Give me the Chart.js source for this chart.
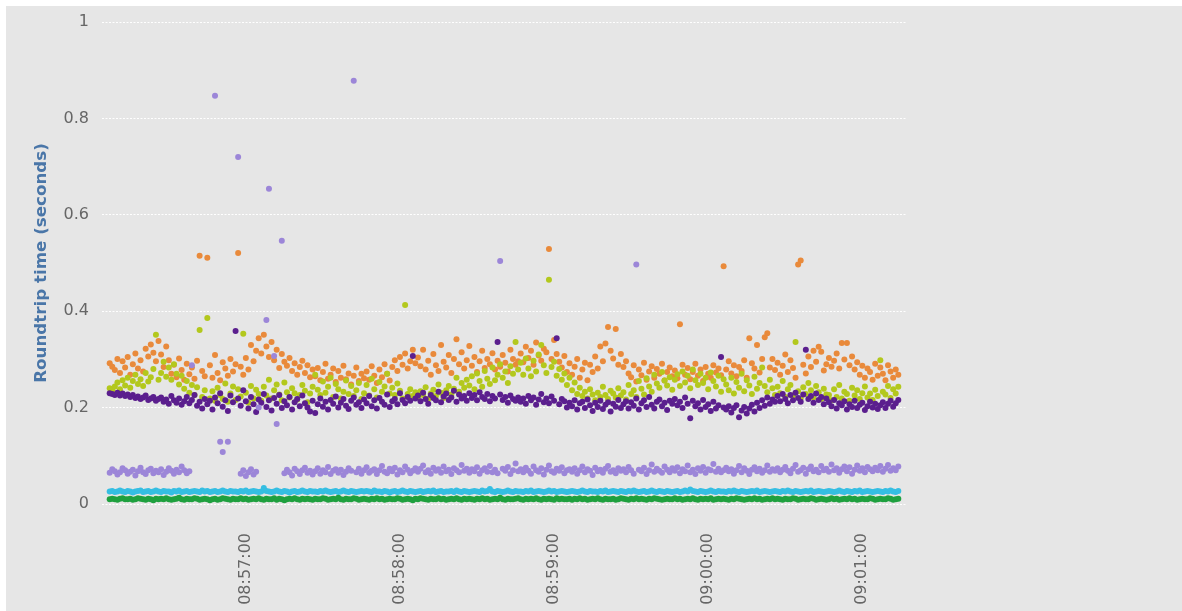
<!DOCTYPE html>
<html>
<head>
<meta charset="utf-8">
<script src="https://cdn.jsdelivr.net/npm/chart.js@4.4.1/dist/chart.umd.min.js"></script>
<style>
  html, body { margin: 0; padding: 0; background: #ffffff; overflow: hidden; }
  #caixa { position: absolute; left: 6px; top: 6px; width: 1176px; height: 605px; background: #e6e6e6; }
</style>
</head>
<body>
<div id="caixa"><canvas id="graficoRtt"></canvas></div>
<script>
// amostras de 1 s a partir deste horario
const inicioAmostras = "08:56:07";
const limitesEixoX = ["08:56:04", "09:01:17"];
const rotulosTempo = ["08:57:00", "08:58:00", "08:59:00", "09:00:00", "09:01:00"];
const rotulosY = [0, 0.2, 0.4, 0.6, 0.8, 1];

const serieRoxoEscuro = [
  .230,.228,.226,.231,.225,.229,.224,.227,.222,.226,.220,.223,.218,.221,.225,.216,.219,.222,.214,.218,
  .221,.212,.217,.208,.224,.215,.210,.219,.206,.213,.222,.209,.216,.226,.204,.212,.198,.218,.207,.214,
  .196,.221,.209,.230,.202,.215,.193,.225,.211,.359,.219,.204,.236,.213,.198,.222,.207,.191,.217,.210,
  .228,.201,.215,.194,.220,.208,.226,.199,.213,.205,.222,.196,.211,.218,.203,.225,.209,.200,.192,.214,
  .189,.207,.219,.202,.212,.196,.216,.208,.223,.200,.210,.218,.204,.197,.214,.221,.206,.211,.199,.217,
  .209,.224,.203,.215,.198,.220,.212,.206,.227,.201,.213,.218,.207,.230,.216,.209,.222,.214,.307,.219,
  .225,.213,.231,.218,.208,.226,.220,.215,.233,.211,.223,.229,.216,.221,.235,.212,.227,.219,.224,.214,
  .230,.220,.226,.215,.232,.222,.218,.228,.213,.224,.219,.336,.227,.216,.222,.210,.225,.218,.214,.221,
  .212,.219,.208,.224,.215,.221,.206,.217,.228,.211,.219,.209,.223,.214,.344,.207,.218,.213,.200,.210,
  .203,.215,.196,.209,.212,.199,.217,.205,.193,.210,.201,.214,.197,.206,.211,.192,.208,.202,.216,.199,
  .207,.213,.198,.211,.204,.219,.196,.209,.215,.201,.222,.206,.198,.212,.217,.203,.210,.195,.214,.208,
  .218,.205,.212,.199,.221,.208,.178,.214,.203,.209,.196,.216,.201,.207,.193,.212,.198,.205,.305,.200,
  .196,.203,.190,.199,.205,.180,.194,.201,.188,.198,.206,.192,.210,.199,.215,.204,.221,.208,.217,.212,
  .224,.213,.228,.218,.209,.226,.215,.231,.220,.212,.227,.320,.218,.224,.210,.229,.216,.222,.207,.219,
  .211,.203,.216,.198,.209,.205,.213,.196,.207,.201,.214,.199,.206,.210,.195,.203,.212,.200,.208,.197,
  .205,.211,.199,.208,.214,.202,.209,.216
];

const serieLaranja = [
  .292,.285,.278,.301,.272,.296,.283,.305,.268,.290,.312,.281,.298,.275,.322,.306,.331,.314,.296,.338,
  .310,.284,.327,.298,.270,.289,.263,.302,.278,.258,.291,.269,.283,.260,.297,.515,.276,.265,.511,.288,
  .262,.309,.272,.257,.294,.281,.266,.301,.275,.290,.521,.285,.268,.303,.279,.330,.296,.318,.344,.312,
  .351,.327,.305,.336,.298,.320,.282,.311,.295,.287,.303,.276,.292,.268,.284,.297,.272,.288,.263,.279,
  .265,.282,.257,.274,.291,.260,.268,.281,.253,.276,.262,.287,.259,.271,.248,.266,.283,.255,.270,.261,
  .275,.258,.286,.266,.251,.279,.263,.290,.270,.256,.284,.298,.276,.305,.289,.312,.281,.296,.320,.292,
  .304,.286,.320,.279,.297,.268,.311,.288,.276,.330,.295,.283,.309,.272,.301,.342,.290,.315,.281,.298,
  .328,.287,.305,.274,.296,.318,.282,.301,.290,.313,.279,.297,.285,.309,.293,.275,.320,.301,.289,.296,
  .312,.294,.326,.303,.318,.289,.335,.308,.297,.322,.315,.529,.301,.340,.311,.295,.283,.307,.274,.292,
  .268,.285,.301,.262,.279,.293,.257,.289,.274,.306,.281,.327,.296,.333,.367,.318,.302,.363,.289,.311,
  .284,.296,.271,.263,.288,.254,.279,.267,.293,.258,.275,.286,.262,.280,.270,.291,.256,.274,.283,.265,
  .277,.261,.373,.289,.268,.282,.259,.274,.291,.266,.279,.255,.284,.270,.262,.288,.273,.281,.267,.493,
  .279,.296,.271,.288,.265,.284,.276,.298,.262,.344,.292,.281,.330,.273,.301,.346,.354,.283,.301,.278,
  .293,.268,.287,.310,.274,.298,.282,.262,.497,.505,.289,.271,.306,.284,.318,.295,.326,.316,.277,.290,
  .303,.285,.297,.312,.281,.334,.300,.334,.288,.306,.279,.294,.268,.287,.262,.281,.274,.258,.291,.266,
  .283,.270,.257,.288,.275,.262,.279,.268
];

const serieVerdeLimao = [
  .240,.236,.244,.252,.238,.257,.246,.262,.241,.255,.268,.249,.259,.245,.272,.254,.263,.280,.351,.258,
  .272,.295,.264,.283,.258,.290,.270,.248,.266,.239,.255,.231,.247,.226,.242,.361,.222,.236,.386,.219,
  .234,.214,.241,.226,.218,.250,.212,.229,.244,.216,.238,.223,.353,.231,.210,.245,.219,.237,.228,.214,
  .243,.225,.258,.219,.236,.248,.227,.215,.252,.232,.221,.240,.230,.217,.226,.247,.235,.211,.229,.243,
  .268,.237,.226,.254,.231,.243,.262,.222,.249,.238,.219,.233,.256,.228,.245,.224,.236,.251,.218,.230,
  .247,.225,.260,.238,.221,.253,.233,.244,.270,.229,.241,.226,.250,.235,.219,.413,.228,.238,.224,.232,
  .221,.234,.226,.242,.218,.229,.237,.224,.248,.231,.220,.236,.245,.227,.239,.262,.233,.251,.241,.258,
  .246,.265,.238,.271,.255,.243,.276,.260,.249,.283,.257,.268,.290,.262,.275,.251,.286,.270,.336,.279,
  .293,.268,.302,.281,.265,.297,.275,.310,.330,.288,.272,.465,.284,.295,.266,.280,.258,.271,.247,.262,
  .236,.252,.228,.241,.224,.233,.219,.238,.227,.215,.231,.222,.243,.226,.218,.235,.229,.221,.240,.225,
  .232,.217,.247,.228,.236,.222,.255,.239,.227,.261,.244,.233,.268,.250,.241,.274,.256,.246,.263,.237,
  .258,.269,.245,.275,.252,.266,.240,.279,.257,.247,.270,.251,.262,.238,.273,.255,.244,.266,.233,.259,
  .248,.236,.262,.229,.253,.241,.270,.234,.257,.246,.228,.264,.239,.251,.283,.245,.232,.258,.240,.226,
  .243,.230,.255,.222,.238,.247,.225,.336,.234,.219,.242,.228,.251,.236,.221,.245,.232,.218,.239,.227,
  .226,.215,.238,.222,.247,.219,.233,.228,.214,.241,.225,.236,.218,.230,.244,.221,.229,.216,.237,.224,
  .298,.233,.227,.245,.220,.238,.229,.243
];

const serieLilas = [
  .065,.072,.068,.061,.066,.074,.070,.063,.067,.071,.059,.068,.075,.066,.062,.070,.073,.064,.069,.066,
  .072,.060,.067,.074,.069,.063,.071,.066,.078,.070,.064,.068,.288,null,null,null,null,null,null,null,
  null,.847,null,.129,.108,null,.129,null,null,null,.720,.063,.070,.058,.066,.072,.061,.067,.200,null,
  null,.382,.654,null,.307,.166,null,.546,.064,.071,.066,.059,.073,.068,.062,.070,.075,.065,.069,.061,
  .068,.074,.063,.070,.066,.077,.062,.069,.072,.065,.071,.060,.067,.074,.069,.878,.066,.073,.063,.070,
  .076,.065,.069,.072,.062,.070,.079,.067,.064,.073,.068,.075,.061,.070,.066,.078,.071,.064,.069,.074,
  .067,.073,.080,.066,.070,.063,.075,.069,.072,.065,.078,.068,.071,.062,.074,.070,.066,.081,.069,.073,
  .065,.072,.068,.076,.063,.070,.074,.067,.079,.066,.071,.064,.504,.073,.069,.077,.062,.070,.084,.068,
  .072,.066,.075,.069,.063,.078,.070,.067,.074,.061,.071,.080,.068,.065,.073,.069,.076,.064,.070,.072,
  .067,.074,.063,.070,.078,.066,.072,.069,.060,.075,.068,.071,.065,.073,.079,.067,.070,.064,.074,.069,
  .072,.066,.077,.070,.063,.497,.071,.068,.075,.062,.070,.082,.067,.073,.069,.065,.078,.071,.066,.074,
  .069,.076,.064,.072,.068,.080,.066,.071,.062,.074,.069,.077,.065,.072,.070,.083,.067,.073,.066,.070,
  .075,.068,.072,.063,.070,.079,.066,.074,.069,.062,.071,.076,.068,.073,.065,.070,.080,.067,.072,.069,
  .074,.066,.071,.077,.069,.064,.073,.081,.067,.070,.075,.063,.072,.078,.068,.071,.066,.079,.070,.073,
  .067,.082,.070,.074,.065,.072,.078,.068,.076,.063,.071,.080,.069,.074,.066,.077,.072,.068,.075,.070,
  .079,.067,.073,.081,.069,.074,.070,.078
];

const serieCiano = [
  .026,.027,.025,.026,.028,.026,.025,.027,.026,.024,.026,.027,.028,.025,.026,.027,.025,.026,.028,.026,
  .025,.027,.026,.026,.024,.027,.026,.028,.025,.026,.027,.025,.026,.027,.026,.025,.028,.026,.027,.025,
  .026,.027,.025,.026,.028,.026,.025,.027,.026,.026,.025,.027,.026,.028,.025,.026,.027,.026,.025,.026,
  .033,.027,.026,.025,.026,.028,.026,.025,.027,.026,.024,.026,.027,.025,.026,.028,.026,.025,.027,.026,
  .026,.025,.027,.026,.028,.026,.025,.026,.027,.025,.026,.028,.026,.025,.027,.026,.025,.026,.027,.026,
  .027,.026,.025,.028,.026,.026,.025,.027,.026,.024,.026,.027,.025,.026,.028,.026,.025,.027,.026,.025,
  .026,.027,.025,.026,.027,.026,.028,.025,.026,.027,.025,.026,.026,.027,.025,.028,.026,.025,.027,.026,
  .025,.026,.027,.026,.025,.028,.026,.027,.031,.026,.025,.027,.026,.025,.026,.028,.026,.025,.027,.026,
  .026,.025,.027,.026,.028,.025,.026,.027,.026,.025,.026,.028,.026,.027,.025,.026,.027,.026,.025,.026,
  .027,.026,.025,.026,.028,.026,.025,.027,.026,.026,.025,.027,.026,.028,.025,.026,.027,.026,.025,.027,
  .026,.025,.027,.026,.028,.026,.025,.026,.027,.025,.026,.028,.026,.025,.027,.026,.025,.027,.026,.025,
  .026,.027,.025,.026,.028,.026,.030,.027,.026,.025,.027,.026,.025,.026,.028,.026,.025,.027,.026,.026,
  .025,.027,.026,.028,.026,.025,.027,.026,.025,.026,.027,.026,.028,.025,.026,.027,.026,.025,.026,.027,
  .026,.025,.027,.026,.028,.026,.025,.027,.026,.025,.026,.027,.026,.028,.025,.026,.027,.026,.025,.026,
  .027,.026,.025,.026,.028,.026,.025,.027,.026,.025,.027,.026,.028,.025,.026,.027,.026,.025,.026,.027,
  .026,.025,.027,.026,.028,.026,.025,.027
];

const serieVerde = [
  .010,.011,.010,.009,.011,.012,.010,.010,.011,.009,.010,.012,.011,.010,.009,.011,.010,.008,.011,.010,
  .011,.010,.012,.010,.009,.010,.011,.013,.010,.009,.011,.010,.010,.012,.011,.009,.010,.011,.010,.008,
  .010,.011,.009,.010,.012,.011,.010,.009,.011,.010,.010,.012,.010,.011,.009,.010,.011,.010,.012,.010,
  .009,.011,.010,.010,.012,.009,.011,.010,.008,.010,.011,.010,.012,.010,.009,.011,.010,.011,.010,.009,
  .011,.010,.010,.012,.011,.009,.010,.011,.010,.013,.010,.009,.011,.010,.010,.012,.011,.009,.010,.011,
  .010,.009,.011,.010,.012,.010,.011,.009,.010,.011,.010,.010,.012,.011,.009,.010,.011,.010,.008,.011,
  .010,.012,.011,.010,.009,.011,.010,.010,.012,.010,.011,.009,.010,.011,.010,.012,.010,.009,.011,.010,
  .011,.010,.009,.011,.010,.012,.010,.011,.009,.010,.011,.010,.013,.010,.009,.011,.010,.010,.011,.012,
  .010,.009,.011,.010,.011,.010,.012,.010,.009,.011,.010,.011,.010,.009,.012,.010,.011,.010,.010,.011,
  .009,.011,.010,.012,.010,.011,.009,.010,.011,.010,.012,.010,.009,.011,.010,.010,.011,.009,.010,.012,
  .011,.010,.009,.011,.010,.012,.010,.011,.010,.009,.011,.010,.012,.011,.010,.009,.010,.011,.010,.010,
  .012,.010,.011,.009,.010,.011,.010,.012,.010,.009,.011,.010,.011,.010,.012,.009,.010,.011,.010,.011,
  .010,.009,.011,.010,.012,.011,.010,.009,.010,.011,.010,.012,.010,.011,.009,.010,.011,.010,.012,.010,
  .011,.010,.009,.011,.010,.010,.012,.011,.009,.010,.011,.010,.010,.012,.011,.009,.010,.011,.010,.009,
  .010,.012,.010,.011,.009,.010,.011,.010,.012,.010,.011,.009,.010,.011,.010,.010,.012,.011,.009,.010,
  .011,.010,.010,.012,.011,.009,.010,.011
];

function paraSegundos(hora) {
  const [h, m, s] = hora.split(":").map(Number);
  return h * 3600 + m * 60 + s;
}

function formatarHora(seg) {
  const h = Math.floor(seg / 3600);
  const m = Math.floor((seg % 3600) / 60);
  const s = Math.round(seg % 60);
  return [h, m, s].map(n => String(n).padStart(2, "0")).join(":");
}

function montarPontos(valores) {
  const t0 = paraSegundos(inicioAmostras);
  return valores.map((v, i) => ({ x: t0 + i, y: v }));
}

function conjunto(valores, cor) {
  return {
    data: montarPontos(valores),
    backgroundColor: cor,
    borderWidth: 0,
    pointRadius: 3,
    pointHoverRadius: 3,
    showLine: false
  };
}

const fonte = "'DejaVu Sans', Verdana, sans-serif";

// o primeiro conjunto fica por cima
const datasets = [
  conjunto(serieVerde, "#1fa03f"),
  conjunto(serieCiano, "#35bee2"),
  conjunto(serieLilas, "#9c86d8"),
  conjunto(serieRoxoEscuro, "#5b1f8e"),
  conjunto(serieVerdeLimao, "#b3c81d"),
  conjunto(serieLaranja, "#e98a3b")
];

new Chart(document.getElementById("graficoRtt"), {
  type: "scatter",
  data: { datasets },
  options: {
    responsive: true,
    maintainAspectRatio: false,
    animation: false,
    layout: { padding: { left: 0, right: 276, top: 16, bottom: 0 } },
    plugins: { legend: { display: false }, tooltip: { enabled: false } },
    scales: {
      x: {
        type: "linear",
        min: paraSegundos(limitesEixoX[0]),
        max: paraSegundos(limitesEixoX[1]),
        afterBuildTicks: escala => {
          escala.ticks = rotulosTempo.map(r => ({ value: paraSegundos(r) }));
        },
        afterFit: escala => { escala.height = 107; },
        border: { display: false },
        grid: { display: false, drawTicks: false },
        ticks: {
          color: "#666666",
          font: { family: fonte, size: 16 },
          padding: 29,
          minRotation: 90,
          maxRotation: 90,
          autoSkip: false,
          callback: v => formatarHora(v)
        }
      },
      y: {
        min: 0,
        max: 1,
        afterBuildTicks: escala => {
          escala.ticks = rotulosY.map(v => ({ value: v }));
        },
        afterFit: escala => {
          escala.width = 96;
          escala.paddingTop = 0;
          escala.paddingBottom = 0;
        },
        border: { display: false, dash: [2, 1.5] },
        grid: { color: "#ffffff", lineWidth: 1, drawTicks: false },
        ticks: {
          color: "#666666",
          font: { family: fonte, size: 16 },
          padding: 13,
          callback: v => String(v)
        },
        title: {
          display: true,
          text: "Roundtrip time (seconds)",
          color: "#4a76a8",
          font: { family: fonte, size: 16.7, weight: "bold" },
          padding: { top: 26, bottom: 0 }
        }
      }
    }
  }
});
</script>
</body>
</html>
